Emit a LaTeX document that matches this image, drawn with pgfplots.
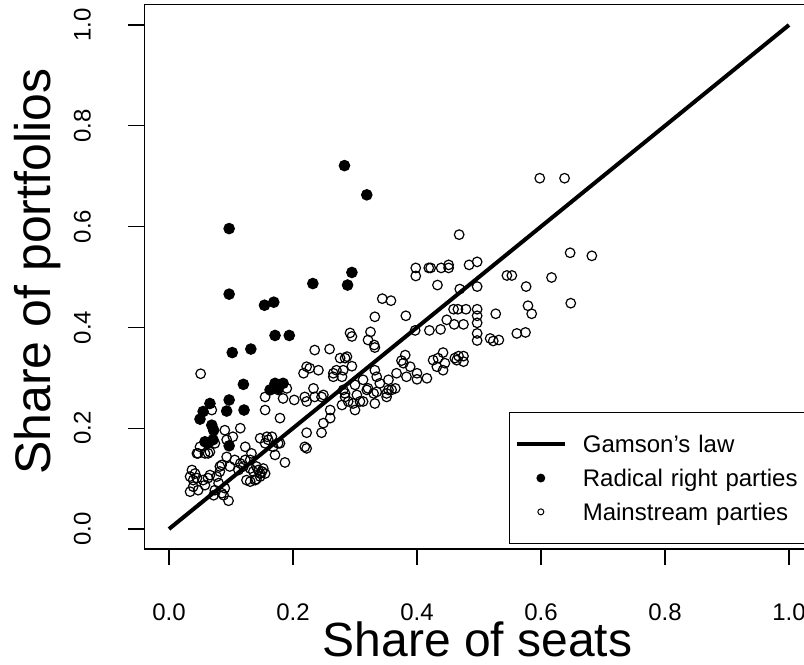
\documentclass[border=0pt]{standalone}
\usepackage{fontspec}
\setmainfont{Liberation Sans}
\usepackage{pgfplots}
\pgfplotsset{compat=1.18}
\usepackage{pgfplotstable}

\pgfplotstableread{
x y
0.283 0.721
0.319 0.663
0.097 0.596
0.295 0.509
0.232 0.487
0.288 0.484
0.097 0.466
0.154 0.444
0.169 0.450
0.171 0.384
0.194 0.384
0.132 0.357
0.102 0.350
0.120 0.287
0.097 0.256
0.093 0.234
0.121 0.236
0.050 0.218
0.055 0.233
0.066 0.249
0.069 0.206
0.072 0.196
0.058 0.173
0.063 0.170
0.071 0.177
0.097 0.165
0.163 0.276
0.171 0.289
0.184 0.289
0.176 0.279
}\radical

\pgfplotstableread{
x y
0.598 0.696
0.638 0.696
0.468 0.584
0.647 0.548
0.682 0.542
0.398 0.518
0.419 0.518
0.422 0.518
0.439 0.518
0.451 0.518
0.451 0.524
0.398 0.502
0.484 0.524
0.497 0.530
0.545 0.503
0.553 0.503
0.617 0.499
0.433 0.484
0.469 0.476
0.497 0.481
0.576 0.481
0.648 0.448
0.344 0.457
0.358 0.453
0.332 0.421
0.382 0.423
0.579 0.443
0.585 0.427
0.527 0.427
0.459 0.436
0.466 0.436
0.479 0.436
0.497 0.436
0.497 0.423
0.497 0.409
0.497 0.388
0.497 0.374
0.448 0.415
0.460 0.406
0.475 0.406
0.420 0.394
0.438 0.396
0.397 0.394
0.518 0.378
0.523 0.373
0.532 0.375
0.561 0.388
0.575 0.390
0.292 0.389
0.295 0.382
0.325 0.391
0.321 0.375
0.331 0.365
0.332 0.360
0.276 0.339
0.284 0.339
0.295 0.323
0.270 0.315
0.281 0.315
0.265 0.302
0.279 0.302
0.381 0.345
0.375 0.334
0.378 0.329
0.389 0.322
0.400 0.309
0.400 0.297
0.383 0.302
0.367 0.309
0.416 0.299
0.426 0.335
0.434 0.339
0.442 0.350
0.445 0.329
0.442 0.315
0.432 0.322
0.461 0.339
0.467 0.343
0.475 0.343
0.475 0.332
0.464 0.335
0.332 0.315
0.335 0.302
0.340 0.289
0.354 0.296
0.359 0.276
0.351 0.269
0.365 0.279
0.321 0.279
0.313 0.296
0.300 0.286
0.284 0.269
0.303 0.266
0.330 0.269
0.351 0.262
0.235 0.355
0.259 0.357
0.222 0.322
0.227 0.319
0.241 0.315
0.217 0.309
0.233 0.279
0.219 0.262
0.235 0.262
0.246 0.262
0.222 0.253
0.281 0.276
0.284 0.262
0.289 0.253
0.297 0.249
0.279 0.246
0.308 0.253
0.313 0.253
0.319 0.276
0.335 0.272
0.354 0.276
0.332 0.249
0.300 0.236
0.260 0.236
0.260 0.220
0.249 0.210
0.246 0.191
0.222 0.191
0.219 0.163
0.222 0.160
0.265 0.309
0.287 0.342
0.051 0.308
0.155 0.262
0.155 0.236
0.179 0.220
0.190 0.279
0.176 0.276
0.184 0.259
0.202 0.256
0.249 0.266
0.187 0.132
0.090 0.196
0.115 0.200
0.103 0.183
0.093 0.177
0.050 0.163
0.047 0.150
0.058 0.150
0.066 0.153
0.074 0.170
0.123 0.163
0.133 0.150
0.123 0.137
0.147 0.180
0.158 0.183
0.155 0.170
0.168 0.163
0.171 0.147
0.176 0.170
0.166 0.183
0.179 0.170
0.093 0.143
0.085 0.127
0.082 0.114
0.098 0.124
0.106 0.137
0.115 0.130
0.120 0.124
0.131 0.120
0.131 0.137
0.141 0.124
0.147 0.110
0.155 0.110
0.152 0.120
0.136 0.114
0.037 0.117
0.034 0.104
0.039 0.097
0.045 0.101
0.055 0.097
0.039 0.084
0.034 0.074
0.047 0.077
0.058 0.087
0.066 0.107
0.080 0.091
0.074 0.077
0.085 0.071
0.072 0.067
0.082 0.124
0.096 0.056
0.125 0.097
0.131 0.094
0.139 0.097
0.147 0.104
0.150 0.114
0.160 0.177
0.112 0.117
0.069 0.236
0.063 0.150
0.045 0.150
0.042 0.110
0.063 0.101
0.077 0.104
0.090 0.081
0.088 0.067
0.141 0.099
0.144 0.117
}\mainstream

\begin{document}
\begin{tikzpicture}
\begin{axis}[
  x=310pt, y=252pt,
  xmin=-0.04, xmax=1.04, ymin=-0.04, ymax=1.04,
  axis line style={line width=0.65pt, black},
  xtick={0,0.2,0.4,0.6,0.8,1.0},
  ytick={0,0.2,0.4,0.6,0.8,1.0},
  xticklabels={0.0,0.2,0.4,0.6,0.8,1.0},
  yticklabels={0.0,0.2,0.4,0.6,0.8,1.0},
  tick align=outside,
  tick pos=left,
  major tick length=8pt,
  tick style={line width=0.65pt, black},
  ticklabel style={font=\fontsize{12}{14}\selectfont, inner sep=0pt},
  xticklabel style={anchor=north, text height=8.6pt, text depth=0pt},
  yticklabel style={rotate=90, anchor=south},
  xticklabel shift=18.9pt,
  yticklabel shift=18.5pt,
  xlabel={Share of seats},
  ylabel={Share of portfolios},
  every axis x label/.style={at={(axis description cs:0.4977,-0.197)}, anchor=base, inner sep=0pt, text height=17.5pt, text depth=0pt, font=\fontsize{24}{28}\selectfont},
  every axis y label/.style={at={(axis description cs:-0.1404,0.5097)}, rotate=90, anchor=base, inner sep=0pt, font=\fontsize{25}{29}\selectfont},
  legend style={at={(axis description cs:0.5453,0.2515)}, anchor=north west,
    draw=black, line width=0.5pt, fill=white,
    font=\fontsize{12}{14}\selectfont,
    inner xsep=2.5pt, inner ysep=7.3pt, row sep=0pt,
    nodes={inner sep=0pt, text height=12.8pt, text depth=4.1pt, text width=115pt, align=left},
    /tikz/every odd column/.append style={column sep=8pt}},
  legend cell align=left,
]
\addplot[only marks, mark=o, mark size=2.4pt, mark options={line width=0.6pt, black}, forget plot] table {\mainstream};
\addplot[only marks, mark=*, mark size=2.6pt, mark options={line width=0.6pt, black, fill=black}, forget plot] table {\radical};
\addplot[line width=2pt, black, forget plot] coordinates {(0,0) (1,1)};

\addlegendimage{legend image code/.code={\draw[line width=2pt, black] (0pt,0pt) -- (24pt,0pt);}}
\addlegendentry{Gamson's law}
\addlegendimage{legend image code/.code={\path plot[mark=*, mark size=1.9pt, mark options={line width=0.6pt, draw=black, fill=black}] coordinates {(12pt,0pt)};}}
\addlegendentry{Radical right parties}
\addlegendimage{legend image code/.code={\path plot[mark=o, mark size=1.5pt, mark options={line width=0.5pt, draw=black}] coordinates {(12pt,0pt)};}}
\addlegendentry{Mainstream parties}

\coordinate (bbll) at (axis cs:-0.2726,-0.2679);
\coordinate (bbur) at (axis cs:1.0242,1.0496);
\end{axis}
\pgfresetboundingbox
\path[use as bounding box] (bbll) rectangle (bbur);
\end{tikzpicture}
\end{document}
